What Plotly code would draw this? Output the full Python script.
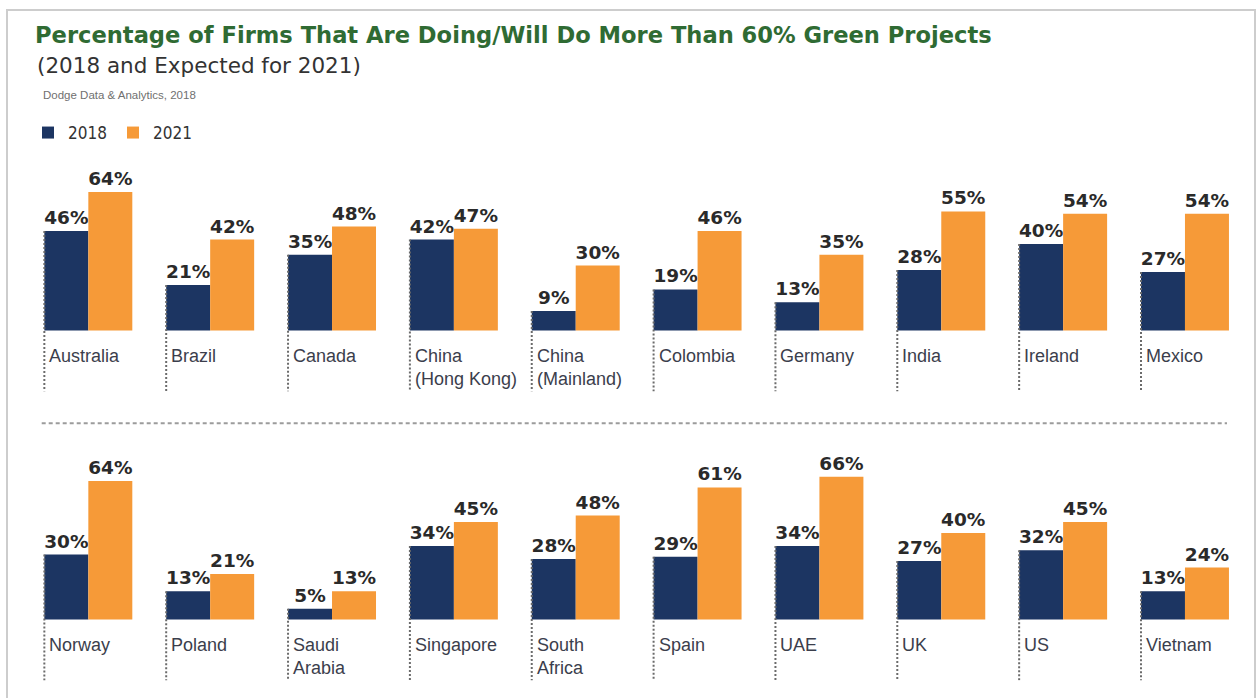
import plotly.graph_objects as go

# ---- data -------------------------------------------------------------
countries_top = ["Australia", "Brazil", "Canada", "China<br>(Hong Kong)", "China<br>(Mainland)",
                 "Colombia", "Germany", "India", "Ireland", "Mexico"]
pct2018_top = [46, 21, 35, 42, 9, 19, 13, 28, 40, 27]
pct2021_top = [64, 42, 48, 47, 30, 46, 35, 55, 54, 54]

countries_bottom = ["Norway", "Poland", "Saudi<br>Arabia", "Singapore", "South<br>Africa",
                    "Spain", "UAE", "UK", "US", "Vietnam"]
pct2018_bottom = [30, 13, 5, 34, 28, 29, 34, 27, 32, 13]
pct2021_bottom = [64, 21, 13, 45, 48, 61, 66, 40, 45, 24]

series_names = ["2018", "2021"]

# ---- styling ----------------------------------------------------------
W, H = 1257, 698
NAVY = "#1c3562"
ORANGE = "#f69a38"
GREEN = "#2f6b33"
LABEL_COLOR = "#3b3e4c"
VALUE_COLOR = "#2a2a2a"
BARGAP = 0.278
HALF = (1 - BARGAP) / 2          # width of one bar in axis units
Y_MIN, Y_MAX = -28.2, 74.0       # room under the baseline for country names


def px_x(p):
    return p / W


def px_y(p):
    return 1 - p / H


def row_domain(baseline_px):
    scale = 2.164  # px per percentage point
    top = baseline_px - Y_MAX * scale
    bottom = baseline_px - Y_MIN * scale
    return [px_y(bottom), px_y(top)]


x_domain = [px_x(27.4), px_x(1245.9)]
rows = [
    dict(cats=countries_top, a=pct2018_top, b=pct2021_top, xa="x", ya="y", base=330.5),
    dict(cats=countries_bottom, a=pct2018_bottom, b=pct2021_bottom, xa="x2", ya="y2", base=619.5),
]

fig = go.Figure()
shapes = []
annotations = []

for r, row in enumerate(rows):
    idx = list(range(len(row["cats"])))
    for name, vals, color in ((series_names[0], row["a"], NAVY), (series_names[1], row["b"], ORANGE)):
        fig.add_trace(go.Bar(
            x=idx, y=vals, name=name, marker=dict(color=color, line=dict(width=0)),
            xaxis=row["xa"], yaxis=row["ya"], legendgroup=name, showlegend=(r == 0),
            texttemplate="%{y}%", textposition="outside", cliponaxis=False,
            constraintext="none",
            textfont=dict(family="DejaVu Sans", size=18.5, color=VALUE_COLOR, weight="bold"),
            hoverinfo="skip",
        ))
    for i, (cat, v) in enumerate(zip(row["cats"], row["a"])):
        left = i - HALF
        shapes.append(dict(type="line", xref=row["xa"], yref=row["ya"], x0=left, x1=left,
                           y0=v, y1=Y_MIN, layer="above",
                           line=dict(color="#6b6b6b", width=2, dash="2px,2px")))
        annotations.append(dict(text=cat, xref=row["xa"], yref=row["ya"], x=left, y=0,
                                xanchor="left", yanchor="top", align="left",
                                xshift=3, yshift=-13, showarrow=False,
                                font=dict(family="Liberation Sans, Arial, sans-serif",
                                          size=18, color=LABEL_COLOR)))

# dotted separator between the two rows
shapes.append(dict(type="line", xref="paper", yref="paper",
                   x0=px_x(41.7), x1=px_x(1227), y0=px_y(423.3), y1=px_y(423.3),
                   line=dict(color="#9c9c9c", width=2, dash="4px,3px")))
# panel frame
shapes.append(dict(type="rect", xref="paper", yref="paper",
                   x0=px_x(7), x1=px_x(1255), y0=-0.05, y1=px_y(10),
                   line=dict(color="#cdcdcd", width=2), fillcolor="rgba(0,0,0,0)", layer="below"))

annotations.append(dict(text="(2018 and Expected for 2021)", xref="paper", yref="paper",
                        x=px_x(35), y=px_y(65), xanchor="left", yanchor="middle", showarrow=False,
                        font=dict(family="DejaVu Sans", size=21.5, color="#333333")))
annotations.append(dict(text="Dodge Data &amp; Analytics, 2018", xref="paper", yref="paper",
                        x=px_x(41), y=px_y(95), xanchor="left", yanchor="middle", showarrow=False,
                        font=dict(family="Liberation Sans, Arial, sans-serif", size=11.5,
                                  color="#707070")))

axis_x = dict(domain=x_domain, range=[-0.5, 9.5], showgrid=False, zeroline=False,
              showticklabels=False, showline=False, ticks="", fixedrange=True)
axis_y = dict(range=[Y_MIN, Y_MAX], showgrid=False, zeroline=False,
              showticklabels=False, showline=False, ticks="", fixedrange=True)

fig.update_layout(
    width=W, height=H,
    margin=dict(l=0, r=0, t=0, b=0),
    paper_bgcolor="white", plot_bgcolor="white",
    barmode="group", bargap=BARGAP, bargroupgap=0,
    title=dict(text="<b>Percentage of Firms That Are Doing/Will Do More Than 60% Green Projects</b>",
               x=px_x(35), xanchor="left", xref="paper",
               y=px_y(35.5), yanchor="middle", yref="paper",
               font=dict(family="DejaVu Sans", size=22.6, color=GREEN)),
    xaxis=dict(axis_x, anchor="y"),
    yaxis=dict(axis_y, domain=row_domain(rows[0]["base"]), anchor="x"),
    xaxis2=dict(axis_x, anchor="y2"),
    yaxis2=dict(axis_y, domain=row_domain(rows[1]["base"]), anchor="x2"),
    legend=dict(orientation="h", x=px_x(28), xanchor="left", y=px_y(133), yanchor="middle",
                entrywidth=40, entrywidthmode="pixels", traceorder="normal",
                font=dict(family="Liberation Sans Narrow, DejaVu Sans Condensed, sans-serif",
                          size=17, color="#333333"),
                bgcolor="rgba(0,0,0,0)"),
    shapes=shapes,
    annotations=annotations,
    showlegend=True,
)

fig.write_html("out.html")
